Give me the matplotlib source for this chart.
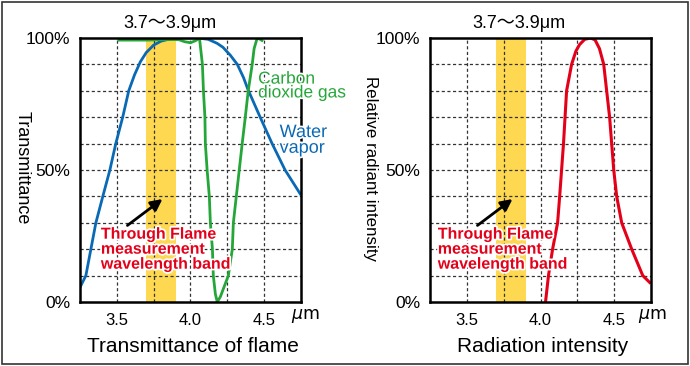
import numpy as np
import matplotlib
matplotlib.use('Agg')
import matplotlib.pyplot as plt
import matplotlib.patheffects as pe
from matplotlib.patches import Rectangle

plt.rcParams['font.family'] = ['Liberation Sans', 'Noto Sans CJK JP', 'DejaVu Sans']

# wavelength band of the measurement (um)
band = (3.7, 3.9)

# water vapor transmittance (%)
vapor_x = [3.25, 3.29, 3.324, 3.358, 3.405, 3.453, 3.493, 3.54, 3.581, 3.62, 3.66, 3.70,
           3.75, 3.80, 3.85, 3.90, 3.95, 4.05, 4.12, 4.18, 4.22, 4.27, 4.318, 4.36, 4.39,
           4.473, 4.554, 4.642, 4.75]
vapor_y = [5.5, 10, 20, 30, 40, 50, 60, 70, 80, 86, 91, 94.5,
           97.3, 98.8, 99.5, 99.9, 100, 100, 99.5, 98, 96.5, 93.5, 90, 85, 80.5,
           70, 60, 50, 40.5]

# carbon dioxide gas transmittance (%)
co2_x = [3.505, 3.70, 3.85, 3.92, 3.96, 4.00, 4.035, 4.061, 4.081, 4.088, 4.098, 4.101,
         4.113, 4.128, 4.135, 4.149, 4.155, 4.169, 4.182, 4.203, 4.23, 4.257, 4.284,
         4.291, 4.311, 4.331, 4.351, 4.372, 4.392, 4.419, 4.432, 4.453, 4.473, 4.493]
co2_y = [99.2, 99.2, 99.4, 99.4, 98.6, 98.2, 99, 100, 90, 80, 70, 60,
         50, 40, 30, 20, 10, 3, 0, 2, 6, 10, 20,
         30, 40, 50, 60, 70, 80, 90, 96, 100, 99.5, 98.8]

# relative radiant intensity of flame (%)
rad_x = [4.034, 4.054, 4.082, 4.116, 4.13, 4.143, 4.156, 4.177, 4.211, 4.24, 4.265, 4.30,
         4.34, 4.37, 4.40, 4.429, 4.449, 4.469, 4.483, 4.497, 4.517, 4.551, 4.619,
         4.694, 4.748]
rad_y = [0, 10, 20, 30, 40, 50, 60, 80, 90, 95, 97.5, 99.5,
         100, 99.3, 96, 90, 80, 70, 60, 50, 40, 30, 20,
         10, 7]

xticks = [3.5, 4.0, 4.5]
xtick_labels = ['3.5', '4.0', '4.5']
xgrid = [3.5, 3.75, 4.0, 4.25, 4.5]
yticks = [0, 50, 100]
ytick_labels = ['0%', '50%', '100%']
ygrid = list(range(10, 100, 10))

blue = '#0a69b5'
green = '#25a638'
red = '#e5001a'
yellow = '#fdd850'
note = 'Through Flame\nmeasurement\nwavelength band'
halo = [pe.withStroke(linewidth=2.5, foreground='white')]


def setup(ax, title, um_x, top_x):
    ax.set_xlim(3.25, 4.75)
    ax.set_ylim(0, 100)
    ax.axvspan(band[0], band[1], color=yellow, lw=0, zorder=1)
    for g in xgrid:
        ax.axvline(g, color='#333333', lw=0.9, ls=(0, (2.5, 2)), zorder=2)
    for g in ygrid:
        ax.axhline(g, color='#333333', lw=0.9, ls=(0, (2.5, 2)), zorder=2)
    ax.set_xticks(xticks)
    ax.set_xticklabels(xtick_labels, fontsize=12)
    ax.set_yticks(yticks)
    ax.set_yticklabels(ytick_labels, fontsize=12.5)
    ax.tick_params(length=0, pad=7)
    ax.tick_params(axis='x', pad=8)
    for s in ax.spines.values():
        s.set_linewidth(1.8)
        s.set_color('black')
        s.set_zorder(5)
    ax.text(um_x, -0.053, r'$\mu$m', transform=ax.transAxes, fontsize=12.5,
            ha='center', va='center', family='DejaVu Sans')
    ax.text(0.51, -0.167, title, transform=ax.transAxes,
            fontsize=15, ha='center', va='center')
    ax.text(top_x, 1.053, '3.7～3.9μm', transform=ax.transAxes, fontsize=13,
            ha='center', va='center')
    ax.annotate('', xy=(3.81, 39), xytext=(3.572, 29),
                arrowprops=dict(arrowstyle='-|>', lw=2, color='black', mutation_scale=17,
                                shrinkA=0, shrinkB=0), zorder=6)


fig = plt.figure(figsize=(6.9, 3.66), dpi=100)
ax1 = fig.add_axes([0.1159, 0.1749, 0.3203, 0.7213])
ax2 = fig.add_axes([0.6232, 0.1749, 0.3203, 0.7213])

setup(ax1, 'Transmittance of flame', 1.018, 0.407)
setup(ax2, 'Radiation intensity', 1.005, 0.40)

ax1.plot(vapor_x, vapor_y, color=blue, lw=2, zorder=3, solid_capstyle='butt')
ax1.plot(co2_x, co2_y, color=green, lw=2, zorder=4, solid_capstyle='butt')
ax2.plot(rad_x, rad_y, color=red, lw=2.2, zorder=4, solid_capstyle='butt')

ax1.text(4.459, 81.8, 'Carbon\ndioxide gas', color=green, fontsize=12.5,
         ha='left', va='center', linespacing=0.9, zorder=6, clip_on=False,
         path_effects=halo)
ax1.text(4.605, 61.2, 'Water\nvapor', color=blue, fontsize=13,
         ha='left', va='center', linespacing=0.9, zorder=6, clip_on=False,
         path_effects=halo)

for ax, nx in [(ax1, 3.392), (ax2, 3.303)]:
    ax.text(nx, 20, note, color=red, fontsize=11.5, fontweight='bold',
            family=['Liberation Sans Narrow', 'Liberation Sans'],
            ha='left', va='center', linespacing=1.0, zorder=7,
            path_effects=[pe.withStroke(linewidth=2.5, foreground='white')])

fig.text(22 / 690, 1 - 168 / 366, 'Transmittance', rotation=-90, fontsize=13,
         ha='center', va='center')
fig.text(370 / 690, 1 - 168 / 366, 'Relative radiant intensity', rotation=-90,
         fontsize=12.2, ha='center', va='center')

fig.patches.append(Rectangle((2 / 690, 2 / 366), 686 / 690, 362 / 366,
                             transform=fig.transFigure, fill=False,
                             edgecolor='#333333', lw=1.2))

fig.savefig('out.png', dpi=100)
